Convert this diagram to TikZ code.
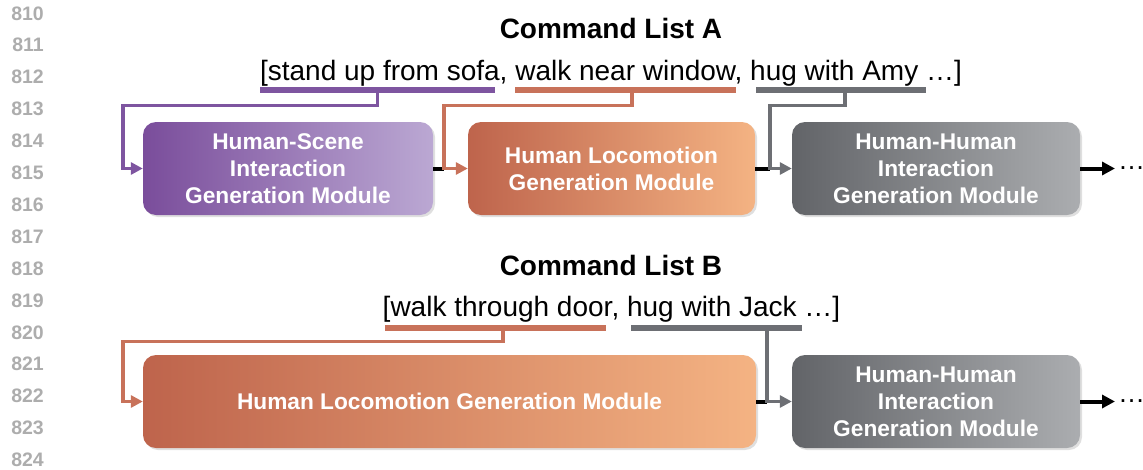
\documentclass[tikz,border=0pt]{standalone}
\usepackage{fontspec}
\setmainfont{Liberation Sans}
\usetikzlibrary{arrows.meta,shadows,calc}
\definecolor{pdark}{HTML}{7A4D9B}
\definecolor{plight}{HTML}{BBA8D3}
\definecolor{odark}{HTML}{BE644C}
\definecolor{olight}{HTML}{F4B383}
\definecolor{gdark}{HTML}{626468}
\definecolor{glight}{HTML}{ABADB0}
\definecolor{pline}{HTML}{7E55A0}
\definecolor{oline}{HTML}{C8725A}
\definecolor{gline}{HTML}{6D6F74}
\definecolor{lncol}{HTML}{ADADAD}
\tikzset{
  lnum/.style={anchor=east,inner sep=0pt,text=lncol,font=\fontsize{19.5}{22}\selectfont\bfseries},
  titletext/.style={anchor=base,inner sep=0pt,font=\fontsize{28}{34}\selectfont\bfseries},
  cmdtext/.style={anchor=base,inner sep=0pt,font=\fontsize{28}{34}\selectfont},
  modbox/.style={rounded corners=13pt,minimum height=93pt,inner sep=0pt,align=center,
    text=white,font=\fontsize{22.7}{27}\selectfont\bfseries,
    drop shadow={shadow xshift=2pt,shadow yshift=-2pt,opacity=0.25}},
  pmod/.style={modbox,left color=pdark,right color=plight},
  omod/.style={modbox,left color=odark,right color=olight},
  gmod/.style={modbox,left color=gdark,right color=glight},
  bar/.style={rectangle,inner sep=0pt,minimum height=5.5pt},
  conn/.style={line width=3.3pt,-{Triangle[length=12pt,width=12pt]}},
  blk/.style={line width=4pt,black},
  blkarrow/.style={line width=4pt,black,-{Triangle[length=13pt,width=13pt]}},
  dotstext/.style={anchor=base west,inner sep=0pt,font=\fontsize{27}{34}\selectfont},
}
\begin{document}
\begin{tikzpicture}[x=1pt,y=-1pt]
\useasboundingbox (0,0) rectangle (1143,469);
% line numbers
\foreach \i in {0,...,14}{
  \node[lnum] (ln\i) at (44,{13.3+31.9*\i}) {\number\numexpr810+\i\relax};
}
% ---------- Command list A ----------
\node[titletext] (tA) at (611,38) {Command List A};
\node[cmdtext] (cA) at (611,80) {[stand up from sofa, walk near window, hug with Amy …]};
\node[bar,fill=pline,minimum width=235pt] (bA1) at (377.5,90) {};
\node[bar,fill=oline,minimum width=221pt] (bA2) at (625.5,90) {};
\node[bar,fill=gline,minimum width=170pt] (bA3) at (841,90) {};
\node[pmod,minimum width=290pt] (m1) at (288,168.5) {Human-Scene\\Interaction\\Generation Module};
\node[omod,minimum width=287pt] (m2) at (611.5,168.5) {Human Locomotion\\Generation Module};
\node[gmod,minimum width=288pt] (m3) at (936,168.5) {Human-Human\\Interaction\\Generation Module};
\node[dotstext] (dotsA) at (1118,169) {…};
\coordinate (dA1) at (377.5,92);
\coordinate (dA2) at (632,92);
\coordinate (dA3) at (845,92);
\coordinate (jA1) at (444,168.5);
\coordinate (jA2) at (770,168.5);
\draw[blk] (m1.east) -- (jA1);
\draw[blk] (m2.east) -- (jA2);
\draw[conn,pline] (dA1) |- (123,105.5) |- (m1.west);
\draw[conn,oline] (dA2) |- (jA1 |- 0,105.5) -- (jA1) -- (m2.west);
\draw[conn,gline] (dA3) |- (jA2 |- 0,105.5) -- (jA2) -- (m3.west);
\draw[blkarrow] (m3.east) -- ($(m3.east -| dotsA.west)+(-3,0)$);
% ---------- Command list B ----------
\node[titletext] (tB) at (611,275) {Command List B};
\node[cmdtext] (cB) at (611.5,316) {[walk through door, hug with Jack …]};
\node[bar,fill=oline,minimum width=221pt] (bB1) at (495.5,328) {};
\node[bar,fill=gline,minimum width=171pt] (bB2) at (716.5,328) {};
\node[omod,minimum width=613pt] (m4) at (449.5,401.5) {Human Locomotion Generation Module};
\node[gmod,minimum width=288pt] (m5) at (936,401.5) {Human-Human\\Interaction\\Generation Module};
\node[dotstext] (dotsB) at (1118,402) {…};
\coordinate (dB1) at (503,330);
\coordinate (dB2) at (767,330);
\coordinate (jB1) at (767,401.5);
\draw[blk] (m4.east) -- (jB1);
\draw[conn,oline] (dB1) |- (123,341.5) |- (m4.west);
\draw[conn,gline] (dB2) -- (jB1) -- (m5.west);
\draw[blkarrow] (m5.east) -- ($(m5.east -| dotsB.west)+(-3,0)$);
\end{tikzpicture}
\end{document}
